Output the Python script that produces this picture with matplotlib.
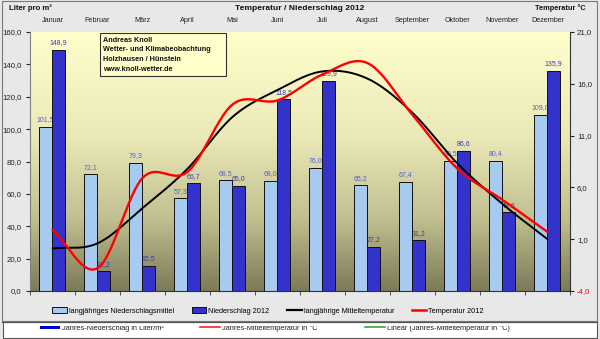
import numpy as np
import matplotlib
matplotlib.use("Agg")
import matplotlib.pyplot as plt
from matplotlib.patches import Rectangle
from matplotlib.lines import Line2D
from matplotlib.colors import LinearSegmentedColormap

plt.rcParams['font.family'] = ['Liberation Sans', 'DejaVu Sans']

months = ["Januar", "Februar", "März", "April", "Mai", "Juni", "Juli",
          "August", "September", "Oktober", "November", "Dezember"]
precip_mean = [101.5, 72.1, 79.3, 57.3, 68.5, 68.0, 76.0, 65.2, 67.4, 80.5, 80.4, 109.0]
precip_2012 = [148.9, 12.2, 15.5, 66.7, 65.0, 118.5, 129.9, 27.2, 31.2, 86.6, 48.6, 135.9]
temp_mean = [0.1, 0.6, 4.0, 7.8, 12.8, 15.4, 17.2, 16.5, 13.2, 8.3, 4.4, 1.0]
temp_2012 = [1.9, -1.8, 6.9, 7.5, 14.0, 14.4, 16.9, 18.0, 13.0, 7.8, 4.8, 1.7]
left_ticks = [0, 20, 40, 60, 80, 100, 120, 140, 160]
right_ticks = [-4, 1, 6, 11, 16, 21]

W, H = 600, 339
def fx(x): return x / W
def fy(y): return 1 - y / H

def de(v):
    return f"{v:.1f}".replace('.', ',')

def smooth(vals, n=24):
    y = np.asarray(vals, float)
    m = np.gradient(y)
    xs, ys = [], []
    for i in range(len(y) - 1):
        t = np.linspace(0, 1, n, endpoint=(i == len(y) - 2))
        h00 = 2*t**3 - 3*t**2 + 1
        h10 = t**3 - 2*t**2 + t
        h01 = -2*t**3 + 3*t**2
        h11 = t**3 - t**2
        xs.append(i + t)
        ys.append(h00*y[i] + h10*m[i] + h01*y[i+1] + h11*m[i+1])
    return np.concatenate(xs), np.concatenate(ys)

fig = plt.figure(figsize=(6, 3.39), dpi=100)
fig.patch.set_facecolor('#e8e8e8')

# chart border
fig.add_artist(Rectangle((fx(2), fy(321)), fx(595), 320/H, transform=fig.transFigure,
                         facecolor='none', edgecolor='#7a7a7a', lw=0.8, zorder=1))
# bottom white strip
fig.add_artist(Rectangle((fx(3), fy(338)), fx(594), 16.5/H, transform=fig.transFigure,
                         facecolor='white', edgecolor='#555555', lw=0.8, zorder=0.5))

ax = fig.add_axes([fx(30), fy(291), 540/W, 259/H])
ax.set_facecolor('none')
cmap = LinearSegmentedColormap.from_list('bg', [(0, '#ffffcc'), (0.4, '#ebe9b7'),
                                                (0.72, '#c2bf90'), (1.0, '#7c7a58')])
grad = np.linspace(0, 1, 256).reshape(-1, 1)
ax.imshow(grad, extent=[-0.5, 11.5, 0, 160], aspect='auto', cmap=cmap,
          origin='upper', zorder=0, interpolation='bilinear')

x = np.arange(12)
bw = 0.29
ax.bar(x - 0.155, precip_mean, width=bw, color='#a6caf0', edgecolor='#111111',
       linewidth=0.7, zorder=2)
for xi, v in zip(x - 0.155, precip_mean):
    ax.annotate(de(v), (xi, v), xytext=(0, 2.5), textcoords='offset points',
                ha='center', va='bottom', fontsize=5, color='#4d63d8', zorder=3)
ax.bar(x + 0.135, precip_2012, width=bw, color='#3333cc', edgecolor='#111111',
       linewidth=0.7, zorder=4)
for xi, v in zip(x + 0.135, precip_2012):
    ax.annotate(de(v), (xi, v), xytext=(0, 2.5), textcoords='offset points',
                ha='center', va='bottom', fontsize=5, color='#3a3ab8', zorder=5)

ax.set_xlim(-0.5, 11.5)
ax.set_ylim(0, 160)
ax.set_yticks(left_ticks)
ax.set_yticklabels([de(v) for v in left_ticks])
ax.tick_params(axis='y', labelsize=5.6, length=3, pad=3, colors='#222222')
ax.set_xticks(x)
ax.set_xticklabels(months)
ax.set_xticks(np.arange(-0.5, 12, 1), minor=True)
ax.tick_params(axis='x', which='major', top=True, labeltop=True, bottom=False,
               labelbottom=False, length=0, pad=6, labelsize=5.2, colors='#222222')
ax.tick_params(axis='x', which='minor', bottom=True, top=False, direction='out',
               length=3, color='#333333')
ax.spines['top'].set_visible(False)
ax.spines['left'].set_color('#808080')
ax.spines['bottom'].set_color('#333333')
ax.spines['right'].set_visible(False)

ax2 = ax.twinx()
ax2.set_ylim(-4, 21)
ax2.set_yticks(right_ticks)
ax2.set_yticklabels([de(v) for v in right_ticks])
ax2.tick_params(axis='y', labelsize=5.6, length=3, pad=2, colors='#222222')
for lab, v in zip(ax2.get_yticklabels(), right_ticks):
    if v < 0:
        lab.set_color('#ff0000')
for s in ['top', 'left', 'bottom']:
    ax2.spines[s].set_visible(False)
ax2.spines['right'].set_color('#333333')

sx, sy = smooth(temp_mean)
ax2.plot(sx, sy, color='black', lw=1.4, zorder=6, solid_capstyle='round')
rx, ry = smooth(temp_2012)
ax2.plot(rx, ry, color='#ff0000', lw=1.7, zorder=7, solid_capstyle='round')

# header texts
fig.text(fx(300), fy(8), "Temperatur / Niederschlag 2012", ha='center', va='center',
         fontsize=6.1, fontweight='bold', color='#111111')
fig.text(fx(9), fy(8), "Liter pro m²", ha='left', va='center',
         fontsize=5.6, fontweight='bold', color='#111111')
fig.text(fx(586), fy(8), "Temperatur °C", ha='right', va='center',
         fontsize=5.3, fontweight='bold', color='#111111')

# info box
fig.add_artist(Rectangle((fx(100), fy(76)), 126/W, 43/H, transform=fig.transFigure,
                         facecolor='#ffffcc', edgecolor='#333333', lw=0.8, zorder=2))
for i, t in enumerate(["Andreas Knoll", "Wetter- und Klimabeobachtung",
                       "Holzhausen / Hünstein", "www.knoll-wetter.de"]):
    fig.text(fx(103), fy(40 + 9.7 * i), t, ha='left', va='center', fontsize=5.2,
             fontweight='bold', color='#111111', zorder=3)

# legend
handles = [Rectangle((0, 0), 1, 1, facecolor='#a6caf0', edgecolor='#111111', lw=0.7),
           Rectangle((0, 0), 1, 1, facecolor='#3333cc', edgecolor='#111111', lw=0.7),
           Line2D([], [], color='black', lw=1.6),
           Line2D([], [], color='#ff0000', lw=1.8)]
labels = ["langjähriges Niederschlagsmittel", "Niederschlag 2012",
          "langjährige Mitteltemperatur", "Temperatur 2012"]
fig.legend(handles, labels, loc='center', bbox_to_anchor=(fx(268), fy(311)), ncol=4,
           frameon=False, fontsize=5.3, handlelength=2.0, handleheight=0.8,
           handletextpad=0.25, columnspacing=2.4)

# clipped second legend strip
t_y = fy(328)
strip_items = [(40, "Jahres-Niederschlag in Liter/m²", 'patch', '#0000cc'),
               (200, "Jahres-Mitteltemperatur in °C", 'line', '#ff2020'),
               (365, "Linear (Jahres-Mitteltemperatur in °C)", 'line', '#33aa33')]
for x0, txt, kind, col in strip_items:
    if kind == 'patch':
        fig.add_artist(Rectangle((fx(x0), fy(329)), 20/W, 5/H, transform=fig.transFigure,
                                 facecolor=col, edgecolor='none', zorder=2))
    else:
        fig.add_artist(Line2D([fx(x0), fx(x0 + 20)], [fy(326.5), fy(326.5)],
                              transform=fig.transFigure, color=col, lw=1.2, zorder=2))
    fig.text(fx(x0 + 22), t_y, txt, ha='left', va='center', fontsize=5.3,
             color='#222222', zorder=2)
# cover for clipping top of the strip
fig.add_artist(Rectangle((fx(3.5), fy(326)), 593/W, 4.5/H, transform=fig.transFigure,
                         facecolor='white', edgecolor='none', zorder=2.5))
fig.add_artist(Line2D([fx(2), fx(597)], [fy(321.5), fy(321.5)], transform=fig.transFigure,
                      color='#555555', lw=0.9, zorder=3))

fig.savefig("out.png", dpi=100, facecolor=fig.get_facecolor())
